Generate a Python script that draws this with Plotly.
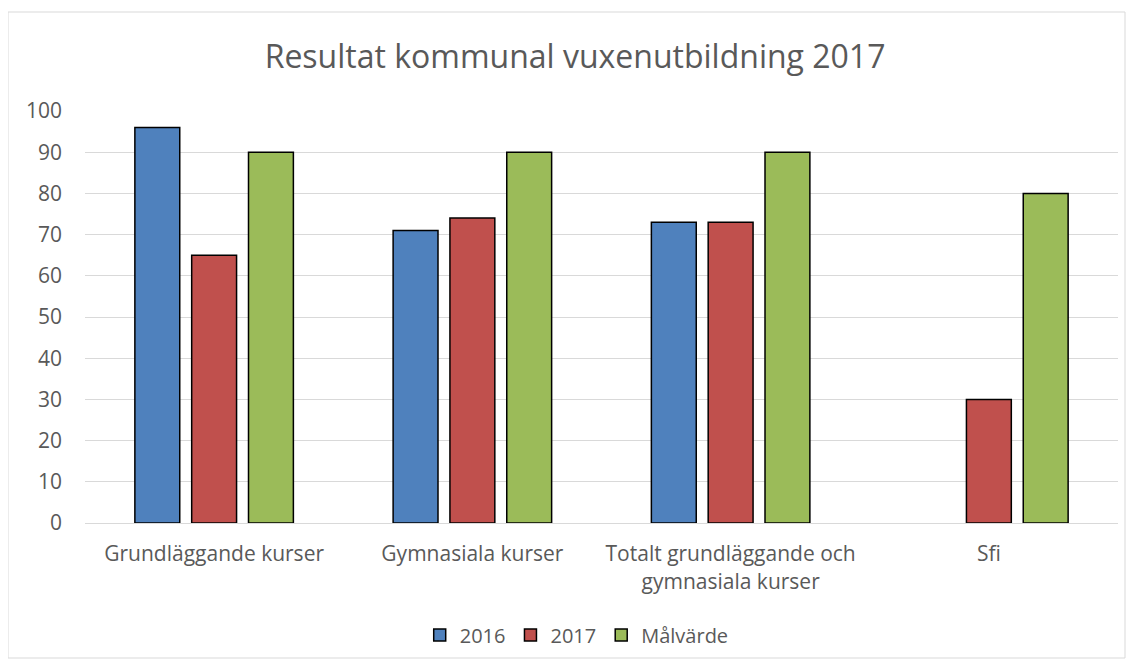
import plotly.graph_objs as go

categories = [
    "Grundläggande kurser",
    "Gymnasiala kurser",
    "Totalt grundläggande och<br>gymnasiala kurser",
    "Sfi",
]
values_2016 = [96, 71, 73, None]
values_2017 = [65, 74, 73, 30]
values_target = [90, 90, 90, 80]

# the page body has an 8px margin, so the figure starts at (8, 8)
W, H = 1126, 660
L, R, T, B = 77, 16, 103, 145
pw, ph = W - L - R, H - T - B

TEXT = "#595959"
FONT = "Open Sans"

fig = go.Figure()
for name, vals, color in [
    ("2016", values_2016, "#4f81bd"),
    ("2017", values_2017, "#c0504d"),
    ("Målvärde", values_target, "#9bbb59"),
]:
    fig.add_trace(
        go.Bar(
            x=categories,
            y=vals,
            name=name,
            marker=dict(color=color, line=dict(color="black", width=1.5)),
        )
    )

# light frame around the whole chart
fig.add_shape(
    type="rect",
    xref="paper",
    yref="paper",
    x0=(0 - L) / pw,
    x1=(1117 - L) / pw,
    y0=(H - B - 650) / ph,
    y1=(H - B - 4) / ph,
    line=dict(color="#d9d9d9", width=1),
    layer="below",
)

fig.update_layout(
    width=W,
    height=H,
    margin=dict(l=L, r=R, t=T, b=B),
    paper_bgcolor="white",
    plot_bgcolor="white",
    font=dict(family=FONT, color=TEXT, size=20),
    title=dict(
        text="Resultat kommunal vuxenutbildning 2017",
        x=0.5036,
        xanchor="center",
        y=1 - 49 / H,
        yanchor="middle",
        font=dict(size=32, color=TEXT, family=FONT),
    ),
    barmode="group",
    bargap=0.34,
    bargroupgap=0.21,
    showlegend=True,
    legend=dict(
        orientation="h",
        x=0.476,
        xanchor="center",
        y=-(627 - (H - B)) / ph,
        yanchor="middle",
        font=dict(size=20, color=TEXT),
        itemwidth=30,
        traceorder="normal",
    ),
    xaxis=dict(
        showgrid=False,
        showline=True,
        linecolor="#d9d9d9",
        ticks="",
        tickfont=dict(size=21, color=TEXT),
        ticklabelstandoff=12,
    ),
    yaxis=dict(
        range=[0, 100],
        dtick=10,
        gridcolor="#d9d9d9",
        gridwidth=1,
        zeroline=False,
        ticks="",
        tickfont=dict(size=21, color=TEXT),
        ticklabelstandoff=22,
    ),
)

fig.write_html("out.html")
